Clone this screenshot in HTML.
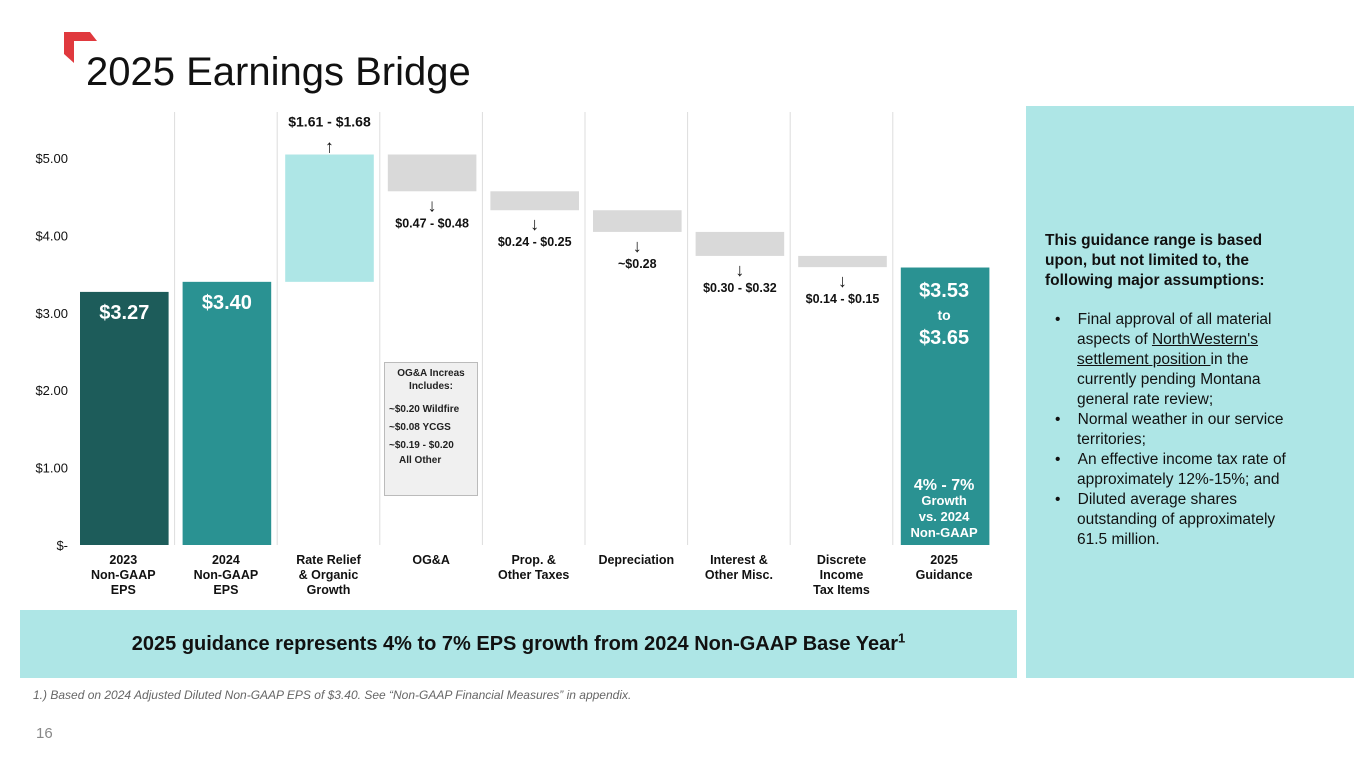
<!DOCTYPE html>
<html><head><meta charset="utf-8"><style>
body{margin:0;width:1365px;height:768px;background:#fff;font-family:"Liberation Sans",sans-serif;position:relative;overflow:hidden}
.abs{position:absolute}
</style></head><body>
<svg class="abs" style="left:64px;top:32px" width="36" height="32"><polygon points="0,0 26,0 33,9 10,9 10,31 0,22" fill="#e0393e"/></svg>
<div class="abs" style="left:86px;top:50px;font-size:40px;color:#111">2025 Earnings Bridge</div>
<svg id="chart" class="abs" style="left:0;top:0" width="1010" height="610"></svg>
<div class="abs" style="left:384px;top:362px;width:94px;height:134px;background:#f0f0f0;border:1px solid #bbb;font-size:10px;font-weight:bold;color:#222;box-sizing:border-box">
<div style="text-align:center;margin-top:4px;line-height:13px">OG&amp;A Increas<br>Includes:</div>
<div style="margin:8px 0 0 4px;line-height:18px">~$0.20 Wildfire<br>~$0.08 YCGS<br>~$0.19 - $0.20</div>
<div style="margin-left:14px;line-height:12px">All Other</div></div>
<div class="abs" style="left:20px;top:610px;width:997px;height:68px;background:#aee6e6;text-align:center;line-height:68px;font-size:20px;font-weight:bold;color:#111">2025 guidance represents 4% to 7% EPS growth from 2024 Non-GAAP Base Year<sup style="font-size:13px;line-height:0">1</sup></div>
<div class="abs" style="left:1026px;top:106px;width:328px;height:572px;background:#aee6e6;font-size:15.5px;color:#111;line-height:20px">
<div style="margin:125px 0 0 19px;width:255px;font-weight:bold">This guidance range is based upon, but not limited to, the following major assumptions:</div>
<ul style="margin:19px 0 0 0;padding-left:51px;width:228px;list-style:none">
<li style="text-indent:-22px">•&nbsp;&nbsp;&nbsp;&nbsp;Final approval of all material aspects of <u>NorthWestern's settlement position </u>in the currently pending Montana general rate review;</li>
<li style="text-indent:-22px">•&nbsp;&nbsp;&nbsp;&nbsp;Normal weather in our service territories;</li>
<li style="text-indent:-22px">•&nbsp;&nbsp;&nbsp;&nbsp;An effective income tax rate of approximately 12%-15%; and</li>
<li style="text-indent:-22px">•&nbsp;&nbsp;&nbsp;&nbsp;Diluted average shares outstanding of approximately 61.5 million.</li></ul></div>
<div class="abs" style="left:33px;top:688px;font-size:12px;font-style:italic;color:#666">1.) Based on 2024 Adjusted Diluted Non-GAAP EPS of $3.40. See “Non-GAAP Financial Measures” in appendix.</div>
<div class="abs" style="left:36px;top:725px;font-size:15px;color:#888">16</div>
<script>
const categories=[["2023","Non-GAAP","EPS"],["2024","Non-GAAP","EPS"],["Rate Relief","& Organic","Growth"],["OG&A"],["Prop. &","Other Taxes"],["Depreciation"],["Interest &","Other Misc."],["Discrete","Income","Tax Items"],["2025","Guidance"]];
const barKinds=["total","total","up","down","down","down","down","down","total"];
const barValues=[3.27,3.40,1.645,0.475,0.245,0.28,0.31,0.145,3.585];
const valueLabels=["$3.27","$3.40","$1.61 - $1.68","$0.47 - $0.48","$0.24 - $0.25","~$0.28","$0.30 - $0.32","$0.14 - $0.15",""];
const tickValues=[0,1,2,3,4,5];
const tickLabels=["$-","$1.00","$2.00","$3.00","$4.00","$5.00"];
const svg=document.getElementById('chart');const NS='http://www.w3.org/2000/svg';
const y=v=>545-v*77.4;const colL=72,colW=102.6;
function mk(t,a,txt){const e=document.createElementNS(NS,t);for(const k in a)e.setAttribute(k,a[k]);if(txt!=null)e.textContent=txt;svg.appendChild(e);return e;}
tickValues.forEach((v,i)=>{const t=mk('text',{x:68,y:y(v)+5,'text-anchor':'end','font-size':13,fill:'#111'},tickLabels[i]);

});
for(let i=1;i<9;i++){const l=mk('line',{x1:colL+i*colW,x2:colL+i*colW,y1:112,y2:545,stroke:'#ddd'});

}
let run=0;
barKinds.forEach((k,i)=>{const x0=colL+i*colW+8,w=colW-14;let top,bot,fill;
if(k==='total'){top=y(barValues[i]);bot=y(0);run=barValues[i];fill=i===0?'#1d5c5a':'#2a9292';}
else if(k==='up'){bot=y(run);run+=barValues[i];top=y(run);fill='#aee6e6';}
else{top=y(run);run-=barValues[i];bot=y(run);fill='#d9d9d9';}
const r=mk('rect',{x:x0,y:top,width:w,height:bot-top,fill:fill});


const cx=x0+w/2;
if(k==='total'&&valueLabels[i]){const t=mk('text',{x:cx,y:top+27,'text-anchor':'middle','font-size':20,'font-weight':'bold',fill:'#fff'},valueLabels[i]);

}
else if(k==='up'){mk('text',{x:cx,y:top-28,'text-anchor':'middle','font-size':14,'font-weight':'bold',fill:'#111'},valueLabels[i]);
mk('text',{x:cx,y:top-2,'text-anchor':'middle','font-size':18,fill:'#111'},'↑');}
else if(k==='down'){mk('text',{x:cx,y:bot+20,'text-anchor':'middle','font-size':18,fill:'#111'},'↓');
mk('text',{x:cx,y:bot+36,'text-anchor':'middle','font-size':12.5,'font-weight':'bold',fill:'#111'},valueLabels[i]);}
categories[i].forEach((s,j)=>{const t=mk('text',{x:colL+i*colW+colW/2,y:564+j*15,'text-anchor':'middle','font-size':12.5,'font-weight':'bold',fill:'#111'},s);

});
});
const gx=colL+8*colW+colW/2;
[["$3.53",297,20],["to",320,14],["$3.65",344,20],["4% - 7%",490,16],["Growth",505,13],["vs. 2024",521,13],["Non-GAAP",537,13]].forEach(a=>{const t=mk('text',{x:gx,y:a[1],'text-anchor':'middle','font-size':a[2],'font-weight':'bold',fill:'#fff'},a[0]);

});
</script>
</body></html>
